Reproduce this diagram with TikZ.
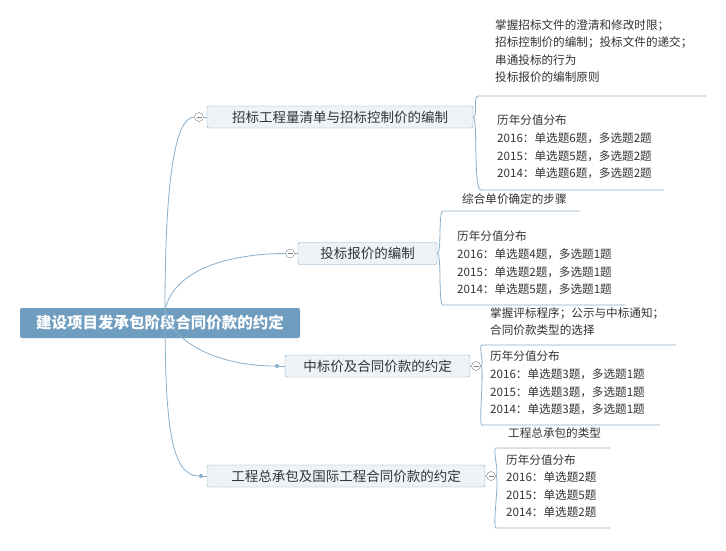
\documentclass[tikz,border=0pt]{standalone}
\usepackage{fontspec}
\setmainfont{Noto Sans CJK SC}
\begin{document}
\begin{tikzpicture}[x=1pt,y=-1pt,
 ln/.style={draw=lnc,line width=0.8pt},
 br/.style={draw=bordc,fill=boxc,rounded corners=2pt,minimum height=22pt,font=\fontsize{13.5}{15}\selectfont,text=black!80,inner xsep=4pt},
 leaf/.style={anchor=north west,align=left,font=\fontsize{11.6}{17.6}\selectfont,text=black!80,inner sep=0pt},
 tog/.style={circle,draw=gray,fill=white,minimum size=9pt,inner sep=0pt,path picture={\draw[gray] ([xshift=-2.5pt]path picture bounding box.center)--([xshift=2.5pt]path picture bounding box.center);}},
 dot/.style={circle,fill=lnc,minimum size=4pt,inner sep=0pt}]
\definecolor{lnc}{HTML}{8AAFCB}
\definecolor{bordc}{HTML}{7FA7C6}
\definecolor{boxc}{HTML}{EEF3F7}
\definecolor{rootc}{HTML}{6E9DC0}
\fill[white] (0,0) rectangle (726,550);
\useasboundingbox (0,0) rectangle (726,550);
\node[fill=rootc,rounded corners=2pt,minimum width=280pt,minimum height=30pt,text=white,font=\fontsize{15.5}{17}\bfseries\selectfont] (root) at (160,323) {建设项目发承包阶段合同价款的约定};
\coordinate (rs) at (165,310);
% branches
\node[br,minimum width=266pt] (b1) at (340,117) {招标工程量清单与招标控制价的编制};
\node[br,minimum width=139pt] (b2) at (367.5,253.5) {投标报价的编制};
\node[br,minimum width=185pt] (b3) at (377.5,366) {中标价及合同价款的约定};
\node[br,minimum width=278pt] (b4) at (346,476) {工程总承包及国际工程合同价款的约定};
\node[tog] (t1) at (199,117) {};
\node[tog] (t2) at (290,253.5) {};
\node[dot] (t3) at (277,366) {};
\node[dot] (t4) at (201,476) {};
\draw[ln] (rs) .. controls (165,180) and (175,117) .. (t1);
\draw[ln] (rs) .. controls (175,265) and (240,253.5) .. (t2);
\draw[ln] (rs) .. controls (175,350) and (230,366) .. (t3);
\draw[ln] (rs) .. controls (165,420) and (170,476) .. (t4);
\draw[ln] (t1)--(b1.west); \draw[ln] (t2)--(b2.west); \draw[ln] (t3)--(b3.west); \draw[ln] (t4)--(b4.west);
% right toggles
\node[tog] (r3) at (476,366) {};
\node[tog] (r4) at (491,476) {};
% leaves B1
\node[leaf] (l11) at (495,19) {掌握招标文件的澄清和修改时限；\\招标控制价的编制；投标文件的递交；\\串通投标的行为\\投标报价的编制原则};
\node[leaf] (l12) at (497,115) {历年分值分布\\2016：单选题6题，多选题2题\\2015：单选题5题，多选题2题\\2014：单选题6题，多选题2题};
\coordinate (u11) at (478,96); \coordinate (e11) at (706,96);
\coordinate (u12) at (481,190); \coordinate (e12) at (664,190);
\draw[ln] (b1.east) .. controls (478,117) and (473,96) .. (u11) -- (e11);
\draw[ln] (b1.east) .. controls (478,117) and (473,190) .. (u12) -- (e12);
% B2
\node[leaf] (l21) at (462,193) {综合单价确定的步骤};
\node[leaf] (l22) at (457,231) {历年分值分布\\2016：单选题4题，多选题1题\\2015：单选题2题，多选题1题\\2014：单选题5题，多选题1题};
\coordinate (u21) at (443,211); \coordinate (e21) at (580,211);
\coordinate (u22) at (443,305); \coordinate (e22) at (625,305);
\draw[ln] (b2.east) .. controls (442,253) and (438,211) .. (u21) -- (e21);
\draw[ln] (b2.east) .. controls (442,253) and (438,305) .. (u22) -- (e22);
% B3
\node[leaf] (l31) at (490,307) {掌握评标程序；公示与中标通知；\\合同价款类型的选择};
\node[leaf] (l32) at (490,351) {历年分值分布\\2016：单选题3题，多选题1题\\2015：单选题3题，多选题1题\\2014：单选题3题，多选题1题};
\coordinate (u31) at (482,345); \coordinate (e31) at (676,345);
\coordinate (u32) at (482,425); \coordinate (e32) at (660,425);
\draw[ln] (r3.east) .. controls (485,366) and (478,345) .. (u31) -- (e31);
\draw[ln] (r3.east) .. controls (485,366) and (478,425) .. (u32) -- (e32);
% B4
\node[leaf] (l41) at (508,427) {工程总承包的类型};
\node[leaf] (l42) at (506,454) {历年分值分布\\2016：单选题2题\\2015：单选题5题\\2014：单选题2题};
\coordinate (u41) at (496,448); \coordinate (e41) at (610,448);
\coordinate (u42) at (496,528); \coordinate (e42) at (610,528);
\draw[ln] (r4.east) .. controls (500,476) and (492,448) .. (u41) -- (e41);
\draw[ln] (r4.east) .. controls (500,476) and (492,528) .. (u42) -- (e42);
\draw[ln] (b3.east)--(r3.west); \draw[ln] (b4.east)--(r4.west);
\end{tikzpicture}
\end{document}
